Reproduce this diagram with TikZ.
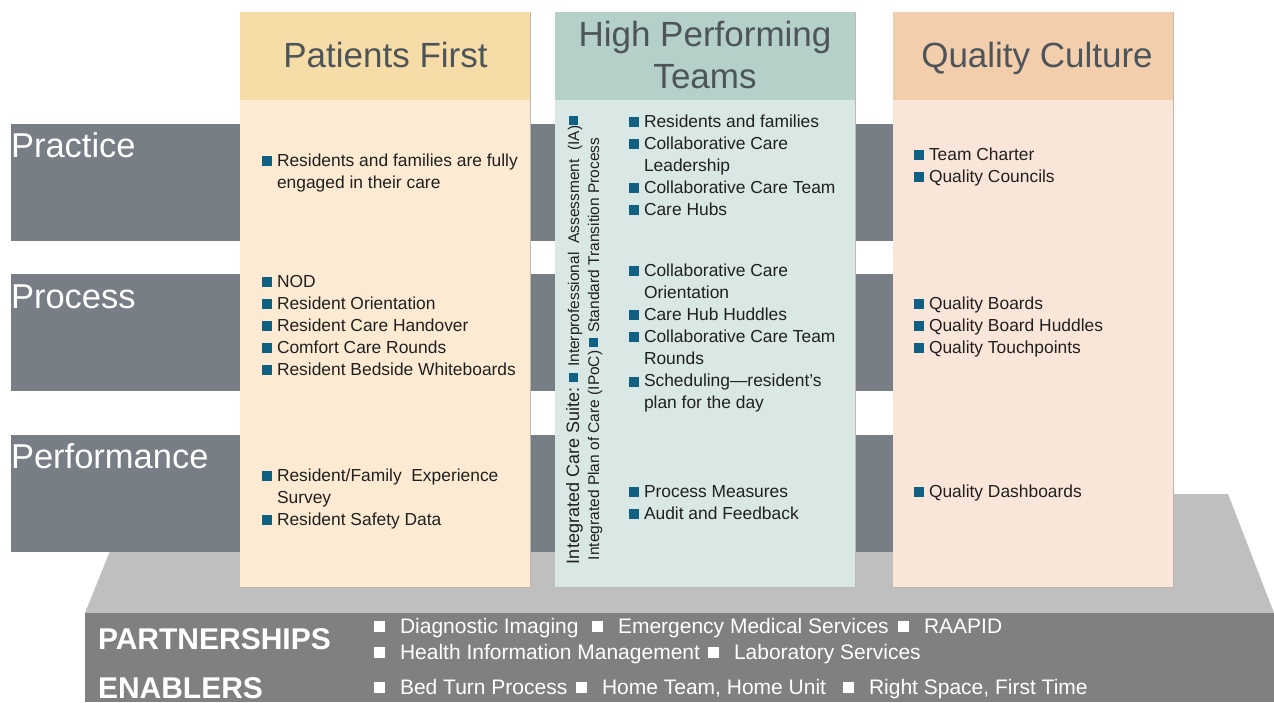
\documentclass[tikz,border=0pt]{standalone}
\usepackage{fontspec}
\setmainfont{Liberation Sans}
\usetikzlibrary{calc}

\definecolor{barc}{RGB}{120,126,133}
\definecolor{platc}{RGB}{191,191,191}
\definecolor{basec}{RGB}{128,128,128}
\definecolor{pfhead}{RGB}{246,220,166}
\definecolor{pfbody}{RGB}{252,235,210}
\definecolor{hthead}{RGB}{180,208,201}
\definecolor{htbody}{RGB}{217,232,228}
\definecolor{qchead}{RGB}{242,206,172}
\definecolor{qcbody}{RGB}{250,230,216}
\definecolor{headtxt}{RGB}{78,85,90}
\definecolor{bodytxt}{RGB}{32,32,32}
\definecolor{bulc}{RGB}{16,96,132}
\definecolor{edgec}{RGB}{190,184,176}

% bullets
\newcommand\bl{\textcolor{bulc}{\rule{10pt}{10pt}}\hspace{5pt}}
\newcommand\nb{\hspace*{15pt}}
\newcommand\vbl{\raisebox{1pt}{\textcolor{bulc}{\rule{9pt}{9pt}}}}
\newcommand\wbl{\raisebox{2pt}{\rule{11pt}{11pt}}}

\begin{document}
\begin{tikzpicture}[x=1pt,y=-1pt,
  every node/.style={inner sep=0pt,outer sep=0pt},
  box/.style={rectangle,anchor=north west,draw=none},
  rowbar/.style={box,fill=barc,minimum width=882pt,minimum height=117pt},
  rowlabel/.style={anchor=base west,text=white,font=\fontsize{34.5}{40}\selectfont},
  headtext/.style={anchor=base,text=headtxt,font=\fontsize{35}{40}\selectfont},
  bodytext/.style={anchor=base west,text=bodytxt,font=\fontsize{17.4}{22}\selectfont},
  edge/.style={draw=edgec,line width=1pt},
  basetitle/.style={anchor=base west,text=white,font=\fontsize{30}{34}\selectfont\bfseries},
  baseitem/.style={anchor=base west,text=white,font=\fontsize{21}{24}\selectfont},
  vtext/.style={rotate=90,anchor=base west,text=bodytxt}]

\useasboundingbox (0,0) rectangle (1274,702);
\fill[white] (0,0) rectangle (1274,702);

% platform under the columns
\coordinate (pTL) at (133,494);
\coordinate (pTR) at (1228,494);
\coordinate (pBR) at (1274,613);
\coordinate (pBL) at (85,613);
\fill[platc] (pTL) -- (pTR) -- (pBR) -- (pBL) -- cycle;

% base band
\node[box,fill=basec,minimum width=1189pt,minimum height=89pt] (base) at (85,613) {};

% row bands
\node[rowbar] (practice) at (11,124) {};
\node[rowbar] (process) at (11,274) {};
\node[rowbar] (performance) at (11,435) {};
\node[rowlabel] (practiceL) at (11,157.5) {Practice};
\node[rowlabel] (processL) at (11,308) {Process};
\node[rowlabel] (performanceL) at (11,468.5) {Performance};

% columns
\node[box,fill=pfbody,minimum width=290pt,minimum height=487pt] (pfB) at (240,100) {};
\node[box,fill=pfhead,minimum width=290pt,minimum height=88pt] (pfH) at (240,12) {};
\node[box,fill=htbody,minimum width=300pt,minimum height=487pt] (htB) at (555,100) {};
\node[box,fill=hthead,minimum width=300pt,minimum height=88pt] (htH) at (555,12) {};
\node[box,fill=qcbody,minimum width=280pt,minimum height=487pt] (qcB) at (893,100) {};
\node[box,fill=qchead,minimum width=280pt,minimum height=88pt] (qcH) at (893,12) {};
\foreach \c in {pf,ht,qc}{
  \draw[edge] (\c H.north east) -- (\c B.south east) -- (\c B.south west);
}

% column titles
\node[headtext] (pfT) at (385.5,67.5) {Patients First};
\node[headtext] (htT1) at (705,46.5) {High Performing};
\node[headtext] (htT2) at (705,88) {Teams};
\node[headtext] (qcT) at (1037,67.5) {Quality Culture};

% Patients First entries
\foreach \t [count=\i] in {\bl Residents and families are fully, \nb engaged in their care}
  \node[bodytext] (pfa\i) at (262,{166+22*(\i-1)}) {\t};
\foreach \t [count=\i] in {\bl NOD, \bl Resident Orientation, \bl Resident Care Handover,
    \bl Comfort Care Rounds, \bl Resident Bedside Whiteboards}
  \node[bodytext] (pfb\i) at (262,{287+22*(\i-1)}) {\t};
\foreach \t [count=\i] in {\bl Resident/Family\ \ Experience, \nb Survey, \bl Resident Safety Data}
  \node[bodytext] (pfc\i) at (262,{481+22*(\i-1)}) {\t};

% High Performing Teams entries
\foreach \t [count=\i] in {\bl Residents and families, \bl Collaborative Care, \nb Leadership,
    \bl Collaborative Care Team, \bl Care Hubs}
  \node[bodytext] (hta\i) at (629,{127+22*(\i-1)}) {\t};
\foreach \t [count=\i] in {\bl Collaborative Care, \nb Orientation, \bl Care Hub Huddles,
    \bl Collaborative Care Team, \nb Rounds, \bl Scheduling---resident’s, \nb plan for the day}
  \node[bodytext] (htb\i) at (629,{276+22.1*(\i-1)}) {\t};
\foreach \t [count=\i] in {\bl Process Measures, \bl Audit and Feedback}
  \node[bodytext] (htc\i) at (629,{497+22*(\i-1)}) {\t};

% vertical suite text
\node[vtext] (suite1) at (579,564) {\fontsize{18}{20}\selectfont Integrated Care Suite:\hspace{6pt}\vbl\hspace{6pt}\fontsize{15.5}{18}\selectfont Interprofessional\ \ Assessment\ \ (IA)\hspace{1pt}\vbl};
\node[vtext] (suite2) at (599,560) {\fontsize{15.5}{18}\selectfont Integrated Plan of Care (IPoC)\hspace{4pt}\vbl\hspace{5pt}Standard Transition Process};

% Quality Culture entries
\foreach \t [count=\i] in {\bl Team Charter, \bl Quality Councils}
  \node[bodytext] (qca\i) at (914,{160+22*(\i-1)}) {\t};
\foreach \t [count=\i] in {\bl Quality Boards, \bl Quality Board Huddles, \bl Quality Touchpoints}
  \node[bodytext] (qcb\i) at (914,{309+22*(\i-1)}) {\t};
\node[bodytext] (qcc1) at (914,497) {\bl Quality Dashboards};

% base band text
\node[basetitle] (partners) at (98,649) {PARTNERSHIPS};
\node[basetitle] (enablers) at (98,698) {ENABLERS};
\foreach \x/\y/\t [count=\i] in {374/633.5/Diagnostic Imaging, 592/633.5/Emergency Medical Services,
    898/633.5/RAAPID, 374/659.5/Health Information Management, 708/659.5/Laboratory Services,
    374/694.5/Bed Turn Process, 576/694.5/{Home Team, Home Unit}, 843/694.5/{Right Space, First Time}}
  \node[baseitem] (bi\i) at (\x,\y) {\wbl\hspace{15pt}\t};

\end{tikzpicture}
\end{document}
